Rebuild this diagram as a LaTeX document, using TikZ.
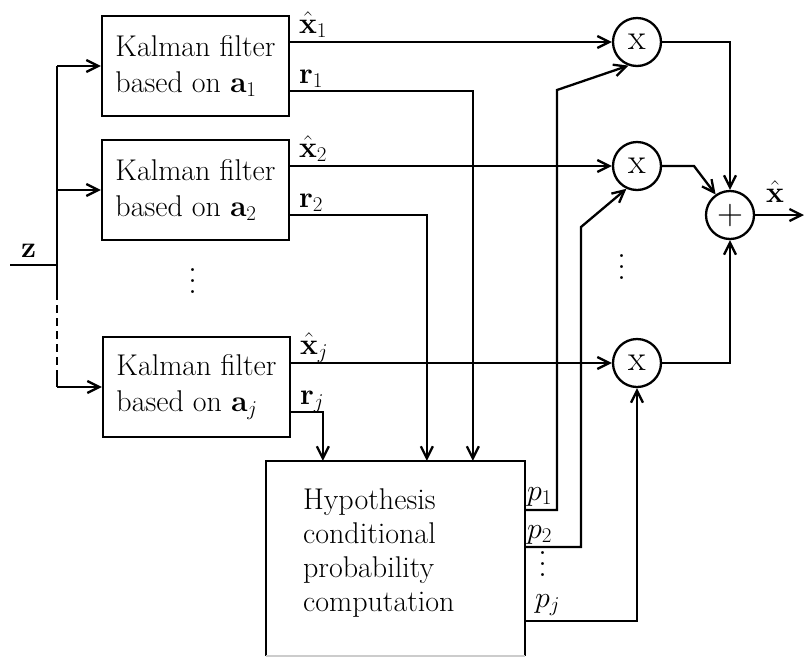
\RequirePackage{fix-cm}
\documentclass[tikz,border=0pt]{standalone}
\usetikzlibrary{arrows.meta,calc}
\newcommand{\myvdots}{\vbox{\baselineskip=11pt\lineskiplimit=0pt\hbox{.}\hbox{.}\hbox{.}}}
\begin{document}
\begin{tikzpicture}[x=1pt,y=-1pt,line width=2.3pt,
  kfbox/.style={draw, minimum width=187pt, minimum height=100pt, align=left, inner sep=0pt, font=\fontsize{30}{36}\selectfont},
  mult/.style={draw, circle, minimum size=48pt, inner sep=0pt, font=\fontsize{36}{38}\selectfont},
  lbl/.style={inner sep=0pt, font=\fontsize{30}{32}\selectfont},
  dotsn/.style={inner sep=0pt, font=\fontsize{36}{38}\selectfont},
  arr/.style={-{Straight Barb[length=12pt,width=12pt,line width=2.3pt]}}]
\useasboundingbox (0,0) rectangle (804,657);
% blocks
\node[kfbox] (kf1) at (195.5,66) {Kalman filter\\based on $\mathbf{a}_1$};
\node[kfbox] (kf2) at (195.5,190) {Kalman filter\\based on $\mathbf{a}_2$};
\node[kfbox] (kfj) at (196.5,387) {Kalman filter\\based on $\mathbf{a}_j$};
\node[dotsn] (vd1) at (193,281) {\myvdots};
\node[minimum width=257pt, minimum height=193pt, inner sep=0pt] (hyp) at (395.5,558.5) {};
\node[lbl, align=left, anchor=north west, font=\fontsize{30}{34}\selectfont] (hyptext) at (302,488) {Hypothesis\\conditional\\probability\\computation};
\node[mult] (m1) at (637,42) {x};
\node[mult] (m2) at (637,166) {x};
\node[mult] (mj) at (637,363) {x};
\node[dotsn] (vd2) at (622,267) {\myvdots};
\node[mult] (sum) at (730,215) {$+$};
% hypothesis box outline (bottom cut off)
\draw (hyp.south west) |- (hyp.north east) -- (hyp.south east);
\draw[gray!40] (hyp.south west) -- (hyp.south east);
% labels
\node[lbl, anchor=base west] (lx1) at (298,33) {$\hat{\mathbf{x}}_1$};
\node[lbl, anchor=base west] (lr1) at (298,83) {$\mathbf{r}_1$};
\node[lbl, anchor=base west] (lx2) at (298,157) {$\hat{\mathbf{x}}_2$};
\node[lbl, anchor=base west] (lr2) at (298,207) {$\mathbf{r}_2$};
\node[lbl, anchor=base west] (lxj) at (299,354) {$\hat{\mathbf{x}}_j$};
\node[lbl, anchor=base west] (lrj) at (299,404) {$\mathbf{r}_j$};
\node[lbl, anchor=base west] (lz) at (20,257) {$\mathbf{z}$};
\node[lbl, anchor=base west] (lp1) at (526,500) {$p_1$};
\node[lbl, anchor=base west] (lp2) at (526,538) {$p_2$};
\node[dotsn] (vd3) at (543,564) {\myvdots};
\node[lbl, anchor=base west] (lpj) at (534,607) {$p_j$};
\node[lbl, anchor=base west] (lx) at (765,202) {$\hat{\mathbf{x}}$};
% input bus
\coordinate (zin) at (10,265);
\coordinate (zj) at (57,265);
\coordinate (zt) at (57,66);
\coordinate (zd1) at (57,292);
\coordinate (zd2) at (57,375);
\coordinate (zb) at (57,387);
\draw (zin) -- (zj);
\draw (zt) -- (zd1);
\draw[dash pattern=on 8pt off 5pt] (zd1) -- (zd2);
\draw (zd2) -- (zb);
\draw[arr] (zt) -- (kf1.west);
\draw[arr] (zt |- kf2.west) -- (kf2.west);
\draw[arr] (zb) -- (kfj.west);
% estimates to multipliers
\draw[arr] ([yshift=24pt]kf1.east) -- (m1.west);
\draw[arr] ([yshift=24pt]kf2.east) -- (m2.west);
\draw[arr] ([yshift=24pt]kfj.east) -- (mj.west);
% residuals to hypothesis box
\draw[arr] ([yshift=-25pt]kf1.east) -| ([xshift=207pt]hyp.north west);
\draw[arr] ([yshift=-25pt]kf2.east) -| ([xshift=161pt]hyp.north west);
\draw[arr] ([yshift=-25pt]kfj.east) -| ([xshift=57pt]hyp.north west);
% probabilities to multipliers
\draw[arr] ([yshift=48.5pt]hyp.east) -- (557,510) -- (557,90) -- (m1.250);
\draw[arr] ([yshift=11.5pt]hyp.east) -- (581,547) -- (581,227) -- (m2.245);
\draw[arr] ([yshift=-62.5pt]hyp.east) -| (mj.south);
% multipliers to sum
\draw[arr] (m1.east) -| (sum.north);
\draw[arr] (m2.east) -- (694,166) -- (sum.125);
\draw[arr] (mj.east) -| (sum.south);
\coordinate (out) at (804,215);
\draw[arr] (sum.east) -- (out);
\end{tikzpicture}
\end{document}
